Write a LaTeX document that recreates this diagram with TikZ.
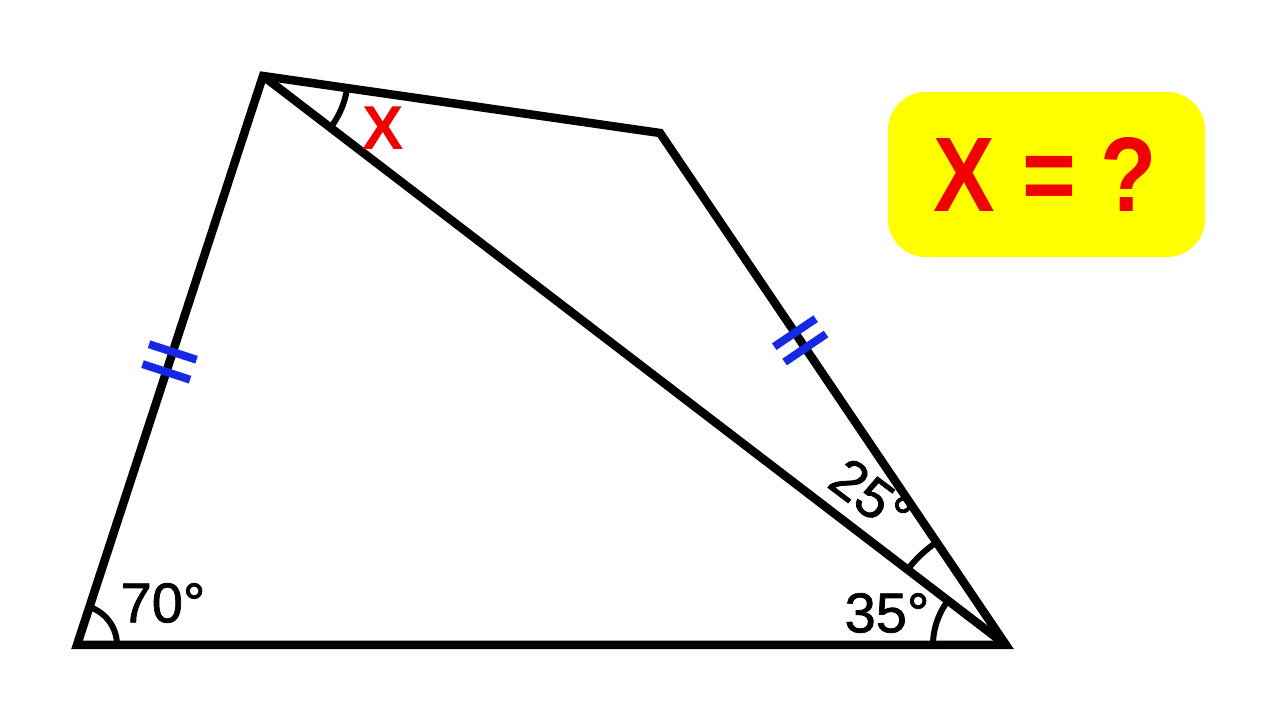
\documentclass[tikz,border=0pt]{standalone}
\usepackage{fontspec}
\setmainfont{Liberation Sans}
\newfontfamily\lblfont[FakeBold=1.3]{Liberation Sans}
\usetikzlibrary{calc,angles}
\definecolor{tickblue}{RGB}{20,40,230}
\definecolor{boxyellow}{RGB}{255,255,0}
\definecolor{xred}{RGB}{240,0,0}
\begin{document}
\begin{tikzpicture}[x=1pt,y=1pt,
  edge/.style={line width=8.5pt,line join=miter,black},
  anglearc/.style={draw,line width=6pt,black},
  tickmark/.style={line width=8pt,tickblue},
  anglelabel/.style={font=\lblfont\fontsize{56}{60}\selectfont,inner sep=0pt},
  xlabel/.style={font=\fontsize{62}{66}\selectfont\bfseries,text=xred,inner sep=0pt},
  qbox/.style={fill=boxyellow,rounded corners=38pt,minimum width=317pt,minimum height=165pt,inner sep=0pt}]
\useasboundingbox (0,0) rectangle (1280,720);
\fill[white] (0,0) rectangle (1280,720);
\coordinate (A) at (77,75);
\coordinate (B) at (263,644);
\coordinate (C) at (660,587);
\coordinate (D) at (1006,75);
% angle arcs
\pic[anglearc,angle radius=40pt] {angle=D--A--B};
\pic[anglearc,angle radius=73pt] {angle=B--D--A};
\pic[anglearc,angle radius=124pt] {angle=C--D--B};
\pic[anglearc,angle radius=85pt] {angle=D--B--C};
% sides
\draw[edge] (A) -- (B) -- (C) -- (D) -- cycle;
\draw[edge] (B) -- (D);
% equal-length ticks
\coordinate (L1) at ($(A)!0.48!(B)$);
\coordinate (L2) at ($(A)!0.515!(B)$);
\coordinate (R1) at ($(C)!0.39!(D)$);
\coordinate (R2) at ($(C)!0.42!(D)$);
\draw[tickmark] ($(L1)!25pt!90:(B)$) -- ($(L1)!25pt!-90:(B)$);
\draw[tickmark] ($(L2)!25pt!90:(B)$) -- ($(L2)!25pt!-90:(B)$);
\draw[tickmark] ($(R1)!25pt!90:(D)$) -- ($(R1)!25pt!-90:(D)$);
\draw[tickmark] ($(R2)!25pt!90:(D)$) -- ($(R2)!25pt!-90:(D)$);
% labels
\node[anglelabel] (l70) at (163,117) {70°};
\node[anglelabel] (l35) at (887,107) {35°};
\node[anglelabel,rotate=-37] (l25) at (871,224) {25°};
\node[xlabel] (lx) at (383,592) {X};
% question box
\node[qbox] (box) at (1046.5,545.5) {};
\node[font=\fontsize{106}{110}\selectfont\bfseries,text=xred,inner sep=0pt] (q) at (1045,545) {\scalebox{0.87}[1]{X\hspace{32pt}=\hspace{28pt}?}};
\end{tikzpicture}
\end{document}
